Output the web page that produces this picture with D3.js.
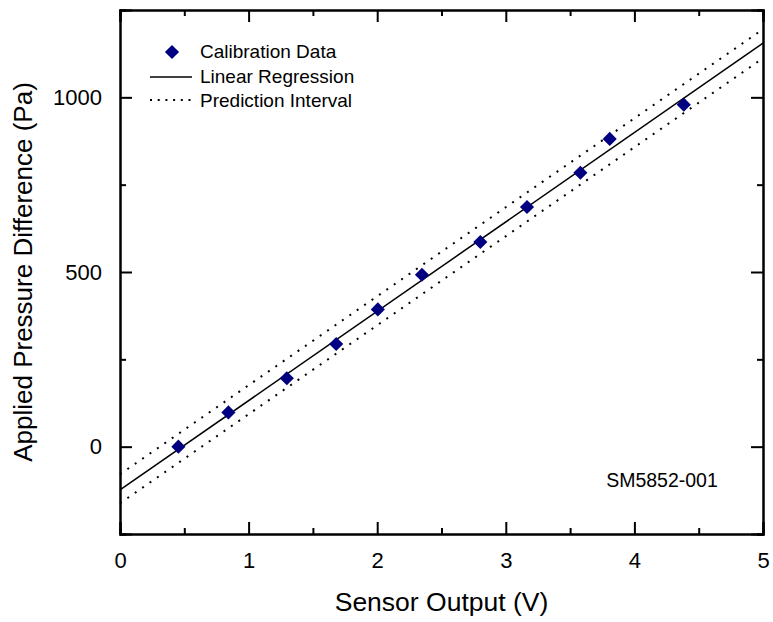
<head>
    <meta name="viewport" content="width=device-width, initial-scale=1">
    <style>
        body { margin: 0; background: #fff; }
        text { font-family: "Liberation Sans", Arial, sans-serif; fill: #000; }
    </style>
    <script src="https://d3js.org/d3.v7.min.js"></script>
</head>
<body>
<div id="chart"></div>
<script>
    // calibration points
    const sensorV = [0.454, 0.843, 1.297, 1.681, 2.005, 2.348, 2.802, 3.165, 3.580, 3.808, 4.384];
    const pressurePa = [0, 98, 196, 294, 393, 492, 586, 686, 784, 881, 979];

    // regression line and prediction interval (end points)
    const fitV = [0, 5];
    const fitPa = [-124, 1155];
    const upperPa = [-79, 1195];
    const lowerPa = [-162, 1112];

    const xTicks = [0, 1, 2, 3, 4, 5];
    const xMinor = [0.5, 1.5, 2.5, 3.5, 4.5];
    const yTicks = [0, 500, 1000];
    const yMinor = [-250, 250, 750, 1250];

    const width = 773, height = 622;
    const m = { left: 120, right: 10, top: 10, bottom: 88 };

    const svg = d3.select("#chart").append("svg")
        .attr("width", width)
        .attr("height", height);

    const x = d3.scaleLinear().domain([0, 5]).range([m.left, width - m.right]);
    const y = d3.scaleLinear().domain([-250, 1250]).range([height - m.bottom, m.top]);

    const gx = svg.append("g").attr("transform", `translate(0,${height - m.bottom})`);
    gx.call(d3.axisBottom(x).tickValues(xTicks).tickSize(-12).tickPadding(18).tickFormat(d3.format("d")));
    gx.append("g").call(d3.axisBottom(x).tickValues(xMinor).tickSize(-6).tickFormat(""));

    const gxTop = svg.append("g").attr("transform", `translate(0,${m.top})`);
    gxTop.call(d3.axisTop(x).tickValues(xTicks).tickSize(-12).tickFormat(""));
    gxTop.append("g").call(d3.axisTop(x).tickValues(xMinor).tickSize(-6).tickFormat(""));

    const gy = svg.append("g").attr("transform", `translate(${m.left},0)`);
    gy.call(d3.axisLeft(y).tickValues(yTicks).tickSize(-12).tickPadding(18).tickFormat(d3.format("d")));
    gy.append("g").call(d3.axisLeft(y).tickValues(yMinor).tickSize(-6).tickFormat(""));

    const gyRight = svg.append("g").attr("transform", `translate(${width - m.right},0)`);
    gyRight.call(d3.axisRight(y).tickValues(yTicks).tickSize(-12).tickFormat(""));
    gyRight.append("g").call(d3.axisRight(y).tickValues(yMinor).tickSize(-6).tickFormat(""));

    svg.selectAll(".domain").attr("stroke", "#000").attr("stroke-width", 2);
    svg.selectAll(".tick line").attr("stroke", "#000").attr("stroke-width", 2);
    svg.selectAll(".tick text").attr("font-size", 22).attr("font-family", "Liberation Sans, Arial, sans-serif");

    const line = d3.line().x(d => x(d[0])).y(d => y(d[1]));

    svg.append("path")
        .datum(d3.zip(fitV, fitPa))
        .attr("d", line)
        .attr("fill", "none")
        .attr("stroke", "#000")
        .attr("stroke-width", 1.5);

    [upperPa, lowerPa].forEach(band => {
        svg.append("path")
            .datum(d3.zip(fitV, band))
            .attr("d", line)
            .attr("fill", "none")
            .attr("stroke", "#000")
            .attr("stroke-width", 2)
            .attr("stroke-dasharray", "2,7");
    });

    const diamond = d3.symbol().type(d3.symbolSquare).size(100);

    svg.append("g")
        .selectAll("path")
        .data(d3.zip(sensorV, pressurePa))
        .join("path")
        .attr("d", diamond)
        .attr("transform", d => `translate(${x(d[0])},${y(d[1])}) rotate(45)`)
        .attr("fill", "#000080");

    // legend
    const lg = svg.append("g");
    lg.append("path")
        .attr("d", diamond)
        .attr("transform", "translate(172,52) rotate(45)")
        .attr("fill", "#000080");
    lg.append("line")
        .attr("x1", 150).attr("x2", 192).attr("y1", 77).attr("y2", 77)
        .attr("stroke", "#000").attr("stroke-width", 1.5);
    lg.append("line")
        .attr("x1", 150).attr("x2", 192).attr("y1", 100).attr("y2", 100)
        .attr("stroke", "#000").attr("stroke-width", 2).attr("stroke-dasharray", "2,5.7");
    lg.selectAll("text")
        .data(["Calibration Data", "Linear Regression", "Prediction Interval"])
        .join("text")
        .attr("x", 200)
        .attr("y", (d, i) => 58 + i * 24.5)
        .attr("font-size", 19)
        .text(d => d);

    svg.append("text")
        .attr("x", 662).attr("y", 487)
        .attr("text-anchor", "middle")
        .attr("font-size", 19.5)
        .text("SM5852-001");

    svg.append("text")
        .attr("x", (m.left + width - m.right) / 2).attr("y", 611)
        .attr("text-anchor", "middle")
        .attr("font-size", 26.5)
        .text("Sensor Output (V)");

    svg.append("text")
        .attr("transform", `translate(32,${(m.top + height - m.bottom) / 2}) rotate(-90)`)
        .attr("text-anchor", "middle")
        .attr("font-size", 26)
        .text("Applied Pressure Difference (Pa)");
</script>
</body>
